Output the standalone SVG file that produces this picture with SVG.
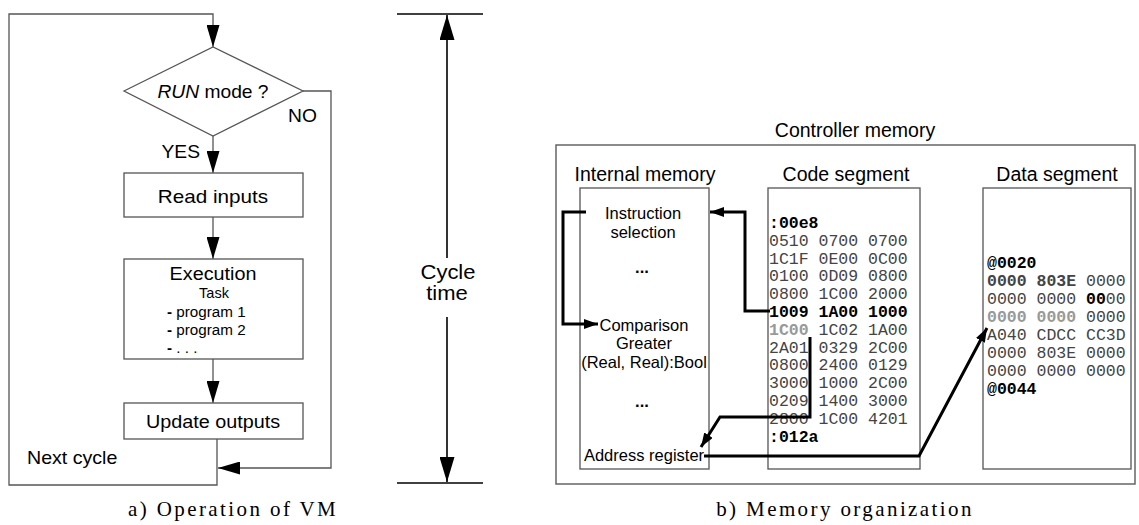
<svg xmlns="http://www.w3.org/2000/svg" width="1139" height="525" viewBox="0 0 1139 525">
<style>
.sans{font-family:"Liberation Sans",Arial,sans-serif;fill:#000}
.mono{font-family:"Liberation Mono","Courier New",monospace;font-size:16.5px;fill:#444}
.serif{font-family:"Liberation Serif","Times New Roman",serif;font-size:21px;letter-spacing:2.4px;fill:#000}
.box{fill:#fff;stroke:#555;stroke-width:1.3}
.flow{fill:none;stroke:#555;stroke-width:1.3}
.thick{fill:none;stroke:#000;stroke-width:3}
.dim{fill:none;stroke:#000;stroke-width:1.6}
.b{font-weight:bold;fill:#000}
.g{font-weight:bold;fill:#999}
.db{font-weight:bold;fill:#444}
</style>
<defs>
<marker id="big" markerUnits="userSpaceOnUse" markerWidth="22" markerHeight="13" refX="22" refY="6.5" orient="auto"><path d="M0,0 L22,6.5 L0,13 z" fill="#000"/></marker>
<marker id="cyc" markerUnits="userSpaceOnUse" markerWidth="25" markerHeight="15" refX="25" refY="7.5" orient="auto-start-reverse"><path d="M0,0 L25,7.5 L0,15 z" fill="#000"/></marker>
<marker id="sm" markerUnits="userSpaceOnUse" markerWidth="14" markerHeight="10" refX="14" refY="5" orient="auto"><path d="M0,0 L14,5 L0,10 z" fill="#000"/></marker>
</defs>
<rect width="1139" height="525" fill="#fff"/>

<!-- a) flowchart -->
<g id="connectors-a">
<polyline class="flow" points="217,439 217,485 9,485 9,14 213,14 213,47" marker-end="url(#big)"/>
<polyline class="flow" points="303,91 331,91 331,468 218,468" marker-end="url(#big)"/>
<line class="flow" x1="213" y1="136" x2="213" y2="173" marker-end="url(#big)"/>
<line class="flow" x1="213" y1="217" x2="213" y2="259" marker-end="url(#big)"/>
<line class="flow" x1="213" y1="359" x2="213" y2="403" marker-end="url(#big)"/>
</g>
<g id="decision">
<polygon class="box" points="124,91 213,47 303,91 213,136"/>
<text class="sans" font-size="17.5" transform="translate(213,98) scale(1.1,1)" text-anchor="middle"><tspan font-style="italic">RUN</tspan> mode ?</text>
<text class="sans" font-size="17.5" transform="translate(288,122) scale(1.1,1)">NO</text>
<text class="sans" font-size="17.5" transform="translate(200,158) scale(1.1,1)" text-anchor="end">YES</text>
</g>
<g id="read-inputs">
<rect class="box" x="124" y="173" width="179" height="44"/>
<text class="sans" font-size="18" transform="translate(213,203) scale(1.15,1)" text-anchor="middle">Read inputs</text>
</g>
<g id="execution">
<rect class="box" x="124" y="259" width="179" height="100"/>
<text class="sans" font-size="18.5" transform="translate(213,280) scale(1.07,1)" text-anchor="middle">Execution</text>
<text class="sans" font-size="14.5" x="214" y="298" text-anchor="middle">Task</text>
<text class="sans" font-size="14.5" transform="translate(167,317) scale(1.05,1)"><tspan font-weight="bold">-</tspan> program 1</text>
<text class="sans" font-size="14.5" transform="translate(167,335) scale(1.05,1)"><tspan font-weight="bold">-</tspan> program 2</text>
<text class="sans" font-size="14.5" transform="translate(167,353) scale(1.05,1)" xml:space="preserve"><tspan font-weight="bold">-</tspan> . . .</text>
</g>
<g id="update-outputs">
<rect class="box" x="124" y="403" width="179" height="36"/>
<text class="sans" font-size="18.5" transform="translate(213,428) scale(1.07,1)" text-anchor="middle">Update outputs</text>
</g>
<g id="next-cycle">
<text class="sans" font-size="18.5" transform="translate(27,464) scale(1.06,1)">Next cycle</text>
</g>
<g id="cycle-time">
<line class="dim" x1="397" y1="14" x2="483" y2="14"/>
<line class="dim" x1="397" y1="483" x2="483" y2="483"/>
<line class="dim" x1="447" y1="258" x2="447" y2="15" marker-end="url(#cyc)"/>
<line class="dim" x1="447" y1="317" x2="447" y2="482" marker-end="url(#cyc)"/>
<text class="sans" font-size="20" transform="translate(448,279) scale(1.1,1)" text-anchor="middle">Cycle</text>
<text class="sans" font-size="20" transform="translate(447,300) scale(1.1,1)" text-anchor="middle">time</text>
</g>
<text class="serif" x="128" y="516">a) Operation of VM</text>

<!-- b) memory -->
<g id="controller-memory">
<rect x="556" y="145" width="579" height="339" fill="none" stroke="#666" stroke-width="1.5"/>
<text class="sans" font-size="19.5" x="855" y="137" text-anchor="middle">Controller memory</text>
</g>
<g id="internal-memory">
<text class="sans" font-size="19.5" x="645" y="181" text-anchor="middle">Internal memory</text>
<rect class="box" x="580" y="188" width="129" height="281"/>
<text class="sans" font-size="16.5" x="643" y="219" text-anchor="middle">Instruction</text>
<text class="sans" font-size="16.5" x="643" y="238" text-anchor="middle">selection</text>
<text class="sans b" font-size="16.5" x="642" y="273" text-anchor="middle">...</text>
<text class="sans" font-size="16.5" x="644" y="331" text-anchor="middle">Comparison</text>
<text class="sans" font-size="16.5" x="644" y="349" text-anchor="middle">Greater</text>
<text class="sans" font-size="16.5" x="644" y="368" text-anchor="middle">(Real, Real):Bool</text>
<text class="sans b" font-size="16.5" x="642" y="407" text-anchor="middle">...</text>
<text class="sans" font-size="16.5" x="644" y="461" text-anchor="middle">Address register</text>
</g>
<g id="code-segment">
<text class="sans" font-size="19.5" x="846" y="181" text-anchor="middle">Code segment</text>
<rect class="box" x="768" y="188" width="152" height="281"/>
<text class="mono" x="769" y="228" xml:space="preserve"><tspan class="b">:00e8</tspan></text>
<text class="mono" x="769" y="245.8">0510 0700 0700</text>
<text class="mono" x="769" y="263.6">1C1F 0E00 0C00</text>
<text class="mono" x="769" y="281.4">0100 0D09 0800</text>
<text class="mono" x="769" y="299.2">0800 1C00 2000</text>
<text class="mono b" x="769" y="317">1009 1A00 1000</text>
<text class="mono" x="769" y="334.8" xml:space="preserve"><tspan class="g">1C00</tspan> 1C02 1A00</text>
<text class="mono" x="769" y="352.6">2A01 0329 2C00</text>
<text class="mono" x="769" y="370.4">0800 2400 0129</text>
<text class="mono" x="769" y="388.2">3000 1000 2C00</text>
<text class="mono" x="769" y="406">0209 1400 3000</text>
<text class="mono" x="769" y="423.8">2800 1C00 4201</text>
<text class="mono b" x="769" y="441.6">:012a</text>
</g>
<g id="data-segment">
<text class="sans" font-size="19.5" x="1057" y="181" text-anchor="middle">Data segment</text>
<rect class="box" x="983" y="188" width="148" height="281"/>
<text class="mono b" x="987" y="268">@0020</text>
<text class="mono" x="987" y="286" xml:space="preserve"><tspan class="db">0000 803E</tspan> 0000</text>
<text class="mono" x="987" y="304" xml:space="preserve">0000 0000 <tspan class="b">00</tspan>00</text>
<text class="mono" x="987" y="322" xml:space="preserve"><tspan class="g">0000 0000</tspan> 0000</text>
<text class="mono" x="987" y="340">A040 CDCC CC3D</text>
<text class="mono" x="987" y="358">0000 803E 0000</text>
<text class="mono" x="987" y="376">0000 0000 0000</text>
<text class="mono b" x="987" y="394">@0044</text>
</g>
<g id="connectors-b">
<polyline class="thick" points="586,212 563,212 563,324 598,324" marker-end="url(#sm)"/>
<polyline class="thick" points="770,311 745,311 745,212 710,212" marker-end="url(#sm)"/>
<polyline class="thick" points="810,337 810,417 720,417 701,447" marker-end="url(#sm)"/>
<polyline class="thick" points="704,456 919,456 987,328" marker-end="url(#sm)"/>
</g>
<text class="serif" x="845" y="516" text-anchor="middle">b) Memory organization</text>
</svg>
